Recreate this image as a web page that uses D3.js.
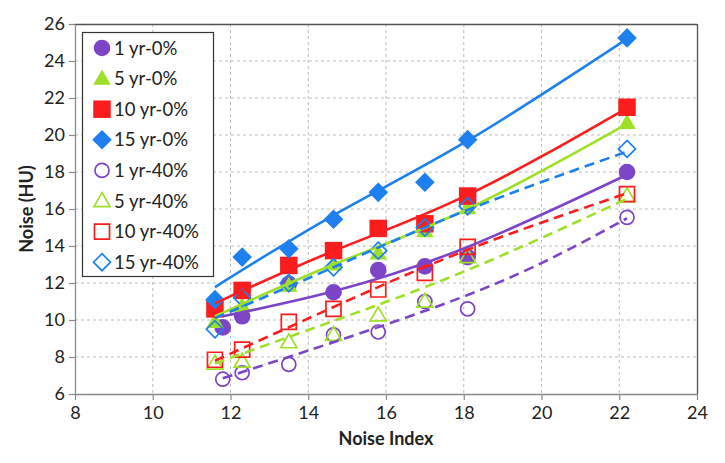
<!DOCTYPE html>
<html><head><meta charset="utf-8">
<script src="https://cdn.jsdelivr.net/npm/d3@7"></script>
<style>body{margin:0;background:#fff}svg{display:block}</style>
</head><body><svg id="c" width="725" height="463"></svg>
<script>
// ---- data ----
const niMain = [11.6, 12.3, 13.5, 14.65, 15.8, 17.0, 18.1, 22.2];
const ni1yr  = [11.8, 12.3, 13.5, 14.65, 15.8, 17.0, 18.1, 22.2];
const seriesNames = ["1 yr-0%","5 yr-0%","10 yr-0%","15 yr-0%","1 yr-40%","5 yr-40%","10 yr-40%","15 yr-40%"];
const yr1_0   = [9.6, 10.2, 11.95, 11.5, 12.7, 12.9, 13.4, 18.0];
const yr5_0   = [9.9, 10.75, 11.85, 13.0, 13.6, 14.8, 16.05, 20.65];
const yr10_0  = [10.6, 11.6, 12.95, 13.75, 14.95, 15.2, 16.7, 21.5];
const yr15_0  = [11.1, 13.4, 13.85, 15.45, 16.9, 17.45, 19.75, 25.25];
const yr1_40  = [6.8, 7.15, 7.6, 9.2, 9.35, 11.0, 10.6, 15.55];
const yr5_40  = [7.65, 7.75, 8.8, 9.2, 10.25, 11.0, 13.4, 16.7];
const yr10_40 = [7.85, 8.4, 9.9, 10.6, 11.65, 12.55, 13.95, 16.8];
const yr15_40 = [9.5, 11.2, 12.0, 12.85, 13.75, 15.0, 16.15, 19.25];
// trend line values read at selected Noise Index positions
const fitNiMain = [11.6, 14.65, 18.1, 22.2];
const fitNi1yr  = [11.8, 14.65, 18.1, 22.2];
const fitNi1yr40 = [11.8, 14.65, 18.1, 20.5, 22.2];
const fit1_0   = [10.2, 11.55, 13.95, 17.85];
const fit5_0   = [10.2, 13.0, 16.0, 20.6];
const fit10_0  = [10.9, 13.73, 16.76, 21.46];
const fit15_0  = [11.78, 15.66, 19.69, 25.2];
const fit1_40  = [6.85, 8.8, 11.35, 13.6, 15.5];
const fit5_40  = [7.65, 9.95, 12.7, 16.55];
const fit10_40 = [7.8, 10.7, 13.8, 16.85];
const fit15_40 = [10.1, 12.85, 15.95, 19.1];
const xTicks = [8,10,12,14,16,18,20,22,24];
const yTicks = [6,8,10,12,14,16,18,20,22,24,26];

const COL = {purple:"#7c44c6", green:"#9ee028", red:"#fb1d1d", blue:"#1e80ee"};
const series = [
  {name:seriesNames[0], x:ni1yr,  y:yr1_0,  fx:fitNi1yr,   fy:fit1_0,  color:COL.purple, shape:"circle",   filled:true},
  {name:seriesNames[1], x:niMain, y:yr5_0,  fx:fitNiMain,  fy:fit5_0,  color:COL.green,  shape:"triangle", filled:true},
  {name:seriesNames[2], x:niMain, y:yr10_0, fx:fitNiMain,  fy:fit10_0, color:COL.red,    shape:"square",   filled:true},
  {name:seriesNames[3], x:niMain, y:yr15_0, fx:fitNiMain,  fy:fit15_0, color:COL.blue,   shape:"diamond",  filled:true},
  {name:seriesNames[4], x:ni1yr,  y:yr1_40, fx:fitNi1yr40, fy:fit1_40, color:COL.purple, shape:"circle",   filled:false},
  {name:seriesNames[5], x:niMain, y:yr5_40, fx:fitNiMain,  fy:fit5_40, color:COL.green,  shape:"triangle", filled:false},
  {name:seriesNames[6], x:niMain, y:yr10_40,fx:fitNiMain,  fy:fit10_40,color:COL.red,    shape:"square",   filled:false},
  {name:seriesNames[7], x:niMain, y:yr15_40,fx:fitNiMain,  fy:fit15_40,color:COL.blue,   shape:"diamond",  filled:false}
];

const FONT = "Lato, 'Open Sans', sans-serif";
const svg = d3.select("#c");
const L = 75, R = 697, T = 24, B = 394;
const x = d3.scaleLinear().domain([8,24]).range([L,R]);
const y = d3.scaleLinear().domain([6,26]).range([B,T]);

// grid
const g = svg.append("g");
g.selectAll(".vg").data(xTicks.slice(1,-1)).join("line")
  .attr("x1",d=>x(d)).attr("x2",d=>x(d)).attr("y1",T).attr("y2",B)
  .attr("stroke","#bdbdbd").attr("stroke-width",1).attr("stroke-dasharray","3,3");
g.selectAll(".hg").data(yTicks.slice(1,-1)).join("line")
  .attr("y1",d=>y(d)).attr("y2",d=>y(d)).attr("x1",L).attr("x2",R)
  .attr("stroke","#bdbdbd").attr("stroke-width",1).attr("stroke-dasharray","3,3");

// frame top/right
svg.append("line").attr("x1",L).attr("x2",R).attr("y1",T+0.5).attr("y2",T+0.5).attr("stroke","#555").attr("stroke-width",1.3);
svg.append("line").attr("x1",R+0.5).attr("x2",R+0.5).attr("y1",T).attr("y2",B).attr("stroke","#555").attr("stroke-width",1.3);

// axes
const xa = svg.append("g").attr("transform",`translate(0,${B})`)
  .call(d3.axisBottom(x).tickValues(xTicks).tickSize(6).tickSizeOuter(0).tickPadding(6));
const ya = svg.append("g").attr("transform",`translate(${L},0)`)
  .call(d3.axisLeft(y).tickValues(yTicks).tickSize(6).tickSizeOuter(0).tickPadding(4));
[xa,ya].forEach(a=>{
  a.select(".domain").attr("stroke","#8a8a8a").attr("stroke-width",1.3);
  a.selectAll(".tick line").attr("stroke","#8a8a8a").attr("stroke-width",1.2);
  a.selectAll("text").attr("font-family",FONT).attr("font-size",18).attr("fill","#222");
});

svg.append("text").attr("x",(L+R)/2).attr("y",445).attr("text-anchor","middle")
  .attr("font-family",FONT).attr("font-weight","bold").attr("font-size",18).attr("fill","#222").text("Noise Index");
svg.append("text").attr("transform",`translate(33,${(T+B)/2}) rotate(-90)`).attr("text-anchor","middle")
  .attr("font-family",FONT).attr("font-weight","bold").attr("font-size",18).attr("fill","#222").text("Noise (HU)");

// marker shapes
function shapePath(shape, filled){
  const p = d3.path();
  if(shape==="circle"){ const r = filled?8.3:7; p.arc(0,0,r,0,2*Math.PI); p.closePath(); }
  else if(shape==="triangle"){ const s = filled?17.5:16, h = s*0.87; p.moveTo(0,-h*0.6); p.lineTo(s/2,h*0.4); p.lineTo(-s/2,h*0.4); p.closePath(); }
  else if(shape==="square"){ const s = filled?17.5:15; p.rect(-s/2,-s/2,s,s); }
  else { const r = filled?9.8:8.5; p.moveTo(0,-r); p.lineTo(r,0); p.lineTo(0,r); p.lineTo(-r,0); p.closePath(); }
  return p.toString();
}
function styleMarker(sel, s){
  sel.attr("d",shapePath(s.shape,s.filled))
    .attr("fill", s.filled ? s.color : "none")
    .attr("stroke", s.color)
    .attr("stroke-width", s.filled ? 0 : 1.7);
}

// markers
const plot = svg.append("g");
series.forEach(s=>{
  plot.append("g").selectAll("path").data(s.y.map((v,i)=>({x:s.x[i],y:v}))).join("path")
    .attr("transform",d=>`translate(${x(d.x)},${y(d.y)})`)
    .call(sel=>styleMarker(sel,s));
});
// trend lines
const line = d3.line().x(d=>x(d[0])).y(d=>y(d[1])).curve(d3.curveNatural);
series.forEach(s=>{
  plot.append("path").datum(s.fx.map((v,i)=>[v,s.fy[i]]))
    .attr("d",line).attr("fill","none").attr("stroke",s.color).attr("stroke-width",2.6)
    .attr("stroke-dasharray", s.filled ? null : "10,6");
});

// legend
const lg = svg.append("g");
lg.append("rect").attr("x",82.5).attr("y",32.5).attr("width",131).attr("height",244)
  .attr("fill","#fff").attr("stroke","#333").attr("stroke-width",1.2);
series.forEach((s,i)=>{
  const cy = 48 + i*30.6;
  lg.append("path").attr("transform",`translate(102,${cy})`).call(sel=>styleMarker(sel,s));
  lg.append("text").attr("x",114).attr("y",cy+6.5).attr("font-family",FONT).attr("font-size",18.5)
    .attr("fill","#222").text(s.name);
});
</script></body></html>
